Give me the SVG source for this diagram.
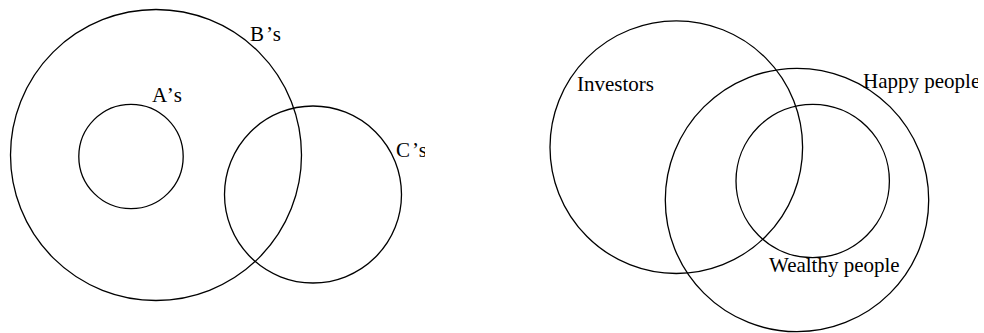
<svg xmlns="http://www.w3.org/2000/svg" width="984" height="333" viewBox="0 0 984 333">
<style>
.c{fill:none;stroke:#000;stroke-width:1.3}
.t{font-family:"Liberation Serif","Times New Roman",serif;font-size:21px;fill:#000}
</style>
<defs>
<clipPath id="clipL"><rect x="0" y="0" width="425" height="333"/></clipPath>
<clipPath id="clipR"><rect x="440" y="0" width="538" height="333"/></clipPath>
</defs>
<rect width="984" height="333" fill="#fff"/>
<g id="left" clip-path="url(#clipL)">
<g id="B"><circle class="c" cx="156" cy="155" r="145.5"/><text class="t" x="250" y="40.5">B<tspan dx="2">’</tspan><tspan dx="1">s</tspan></text></g>
<g id="A"><circle class="c" cx="131" cy="156.5" r="52.2"/><text class="t" x="152" y="102">A<tspan dx="2">’</tspan><tspan dx="1">s</tspan></text></g>
<g id="C"><circle class="c" cx="313" cy="194.5" r="88.5"/><text class="t" x="396" y="157">C<tspan dx="2">’</tspan><tspan dx="1">s</tspan></text></g>
</g>
<g id="right" clip-path="url(#clipR)">
<g id="Investors"><circle class="c" cx="676.3" cy="147.2" r="126.3"/><text class="t" x="577" y="91">Investors</text></g>
<g id="Happy"><circle class="c" cx="797" cy="200" r="131.7"/><text class="t" x="863" y="87.5">Happy people</text></g>
<g id="Wealthy"><circle class="c" cx="812.7" cy="181" r="76.7"/><text class="t" x="769" y="272">Wealthy people</text></g>
</g>
<g id="connectors"></g>
</svg>
